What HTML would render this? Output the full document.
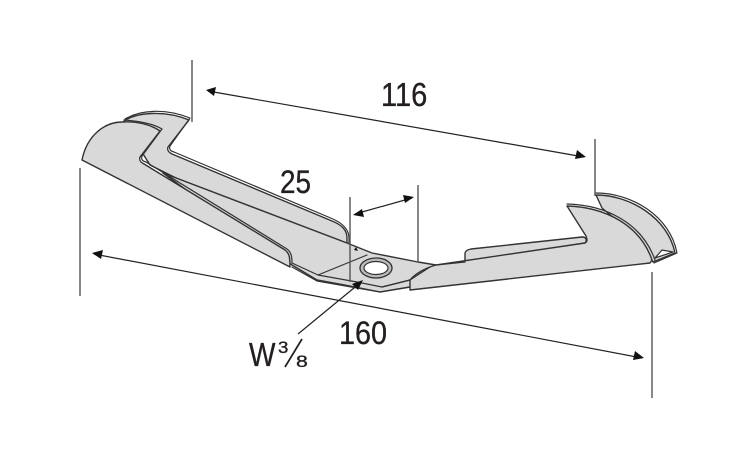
<!DOCTYPE html>
<html><head><meta charset="utf-8"><style>
html,body{margin:0;padding:0;background:#fff;width:750px;height:450px;overflow:hidden}
text{font-family:"Liberation Sans",sans-serif;fill:#231f20;stroke:#231f20;stroke-width:.35}
</style></head><body>
<svg width="750" height="450" viewBox="0 0 750 450" xmlns="http://www.w3.org/2000/svg">
<rect width="750" height="450" fill="#fff"/>
<g stroke="#333" stroke-width="1.4" stroke-linejoin="round" fill="#d9d9d9">
<!-- left back blade -->
<path d="M123 122C135 112 165 110 189 120L168 147C167 150 168 152 172 154L332 221C342 225 347 230 347 238L347 244L200 190L150 165Z"/>
<!-- center plate -->
<path d="M163 173L347 243L372 253L418 262L436 265L410 287L380 292L345 285L317 280L292 265L200 200Z"/>
<!-- left front blade -->
<path d="M82 160C87 135 105 122 122 122C135 121 150 124 160 131L140 157C139 160 140 162 144 164L285 250C289 253 290 256 290 267Z"/>
<!-- right back blade -->
<path d="M596 195C630 195 668 218 675 253L653 262L640 240L602 208Z"/>
<!-- right flange -->
<path d="M465 262L465 254C465 251 467 250 471 249L582 237C587 237 587 241 585 243L500 258Z"/>
<!-- right front blade -->
<path d="M567 206C605 207 640 225 652 260L650 263L410 290L410 280C415 274 425 268 436 265L585 243C588 241 587 239 586 236Z"/>
</g>
<g fill="none" stroke="#333" stroke-width="1.2" stroke-linecap="round" stroke-linejoin="round">
<!-- double edge details -->
<path d="M125 119C140 110 165 108 190 118L170 146C169 149 170 151 174 152L333 219C344 224 349 230 349 238L349 244"/>
<path d="M124 120C138 121 152 123 162 129L142 156C141 159 142 161 146 162L287 249C291 252 292 256 292 263"/>
<path d="M163 173L347 243"/>
<path d="M292 263L318 275L357 282L382 287L410 280"/>
<path d="M318 275L367 255"/>
<path d="M292 267L317 281L380 292L410 287"/>
<path d="M596 193C632 193 670 216 677 253L654 263"/>
<path d="M567 204C606 205 642 223 655 260"/>
<path d="M655 258L673 252L662 250Z" fill="#fff"/>
<path d="M436 265L465 262"/>
<path d="M382 287L410 280L430 267"/>
</g>
<!-- hole -->
<ellipse cx="376" cy="268" rx="16" ry="10" fill="#bbb" stroke="#333" stroke-width="1.3"/>
<ellipse cx="376" cy="268" rx="12" ry="6.5" fill="#fff" stroke="#333" stroke-width="1.2"/>
<!-- dimension lines -->
<g stroke="#555" stroke-width="1.4" fill="none">
<path d="M192 60V122M595 139V196M80 168V296M652 272V398M350 197V282M418 185V262"/>
</g>
<g stroke="#222" stroke-width="1.2" fill="none">
<path d="M208 91L584 157M94 254L642 358M355 214L412 198M298 334L360 283"/>
</g>
<g fill="#111">
<path d="M206 90L216 87L214 96Z"/>
<path d="M586 157L575 159L577 150Z"/>
<path d="M92 253L103 250L101 259Z"/>
<path d="M644 358L633 360L635 351Z"/>
<path d="M353 215L362 209L364 217Z"/>
<path d="M414 197L405 203L403 195Z"/>
<path d="M363 280L358 290L352 284Z"/>
<path d="M354 250L358 251L356 247Z"/>
</g>
<!-- labels -->
<text transform="translate(381 106) scale(.88 1)" font-size="33">116</text>
<text transform="translate(280 193) scale(.87 1)" font-size="32">25</text>
<text transform="translate(339 344) scale(.9 1)" font-size="32">160</text>
<text transform="translate(249 366) scale(.85 1)" font-size="33">W</text>
<text transform="translate(278 353) scale(1.1 1)" font-size="17">3</text>
<text transform="translate(296 367) scale(1.25 1)" font-size="17">8</text>
<path d="M302 339L285 367" stroke="#231f20" stroke-width="1.7" fill="none"/>
</svg>
</body></html>
